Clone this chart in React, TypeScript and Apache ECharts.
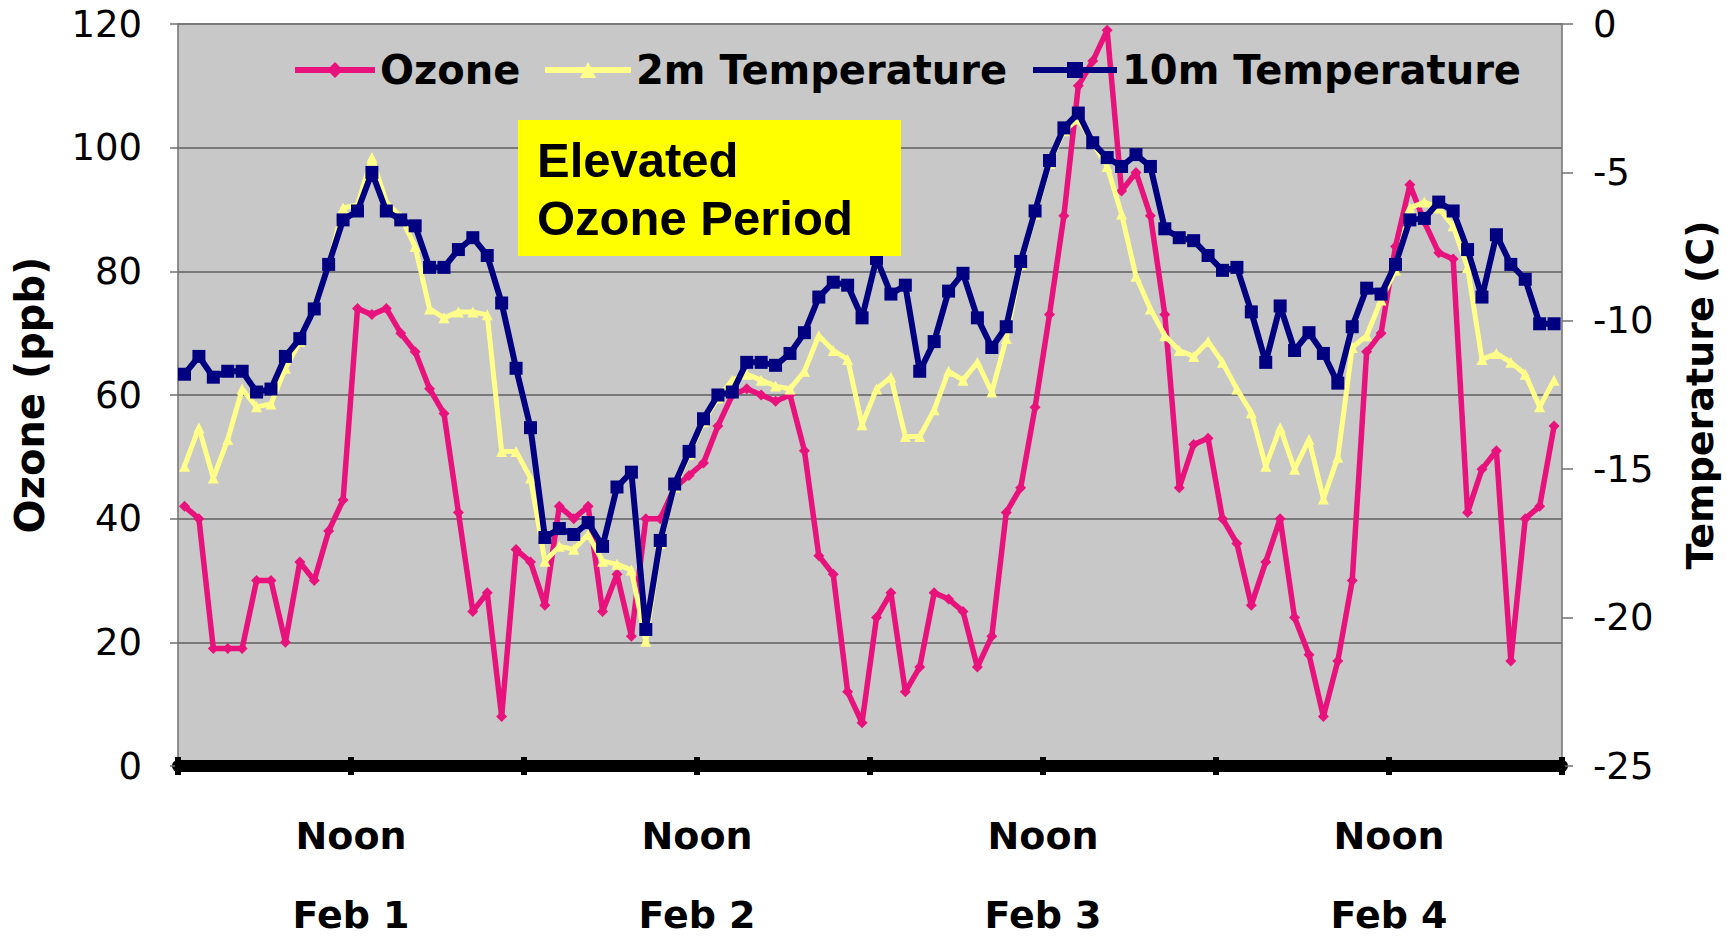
import React, { useEffect, useRef } from "react";
import * as echarts from "echarts";

// Hourly readings, Feb 1 00:00 to Feb 4 24:00 (96 points)
const ozone: number[] = [
  42, 40, 19, 19, 19, 30, 30, 20, 33, 30,
  38, 43, 74, 73, 74, 70, 67, 61, 57, 41,
  25, 28, 8, 35, 33, 26, 42, 40, 42, 25,
  31, 21, 40, 40, 45, 47, 49, 55, 60, 61,
  60, 59, 60, 51, 34, 31, 12, 7, 24, 28,
  12, 16, 28, 27, 25, 16, 21, 41, 45, 58,
  73, 89, 110, 114, 119, 93, 96, 89, 73, 45,
  52, 53, 40, 36, 26, 33, 40, 24, 18, 8,
  17, 30, 67, 70, 84, 94, 88, 83, 82, 41,
  48, 51, 17, 40, 42, 55,
];

const temp2m: number[] = [
  -14.9, -13.6, -15.3, -14.0, -12.3, -12.9, -12.8, -11.6, -10.7, -9.5,
  -8.1, -6.2, -6.1, -4.5, -6.0, -6.5, -7.5, -9.6, -9.9, -9.7,
  -9.7, -9.8, -14.4, -14.4, -15.3, -18.1, -17.6, -17.7, -17.2, -18.1,
  -18.2, -18.4, -20.8, -17.5, -15.6, -14.5, -13.4, -12.6, -12.0, -11.8,
  -12.0, -12.2, -12.3, -11.7, -10.5, -11.0, -11.3, -13.5, -12.3, -11.9,
  -13.9, -13.9, -13.0, -11.7, -12.0, -11.4, -12.4, -10.6, -8.1, -6.4,
  -4.7, -3.6, -3.2, -4.0, -4.8, -6.4, -8.5, -9.6, -10.5, -11.0,
  -11.2, -10.7, -11.4, -12.3, -13.1, -14.9, -13.6, -15.0, -14.0, -16.0,
  -14.6, -10.9, -10.5, -9.3, -8.3, -6.2, -6.0, -6.2, -6.8, -8.2,
  -11.3, -11.1, -11.4, -11.8, -12.9, -12.0,
];

const temp10m: number[] = [
  -11.8, -11.2, -11.9, -11.7, -11.7, -12.4, -12.3, -11.2, -10.6, -9.6,
  -8.1, -6.6, -6.3, -5.0, -6.3, -6.6, -6.8, -8.2, -8.2, -7.6,
  -7.2, -7.8, -9.4, -11.6, -13.6, -17.3, -17.0, -17.2, -16.8, -17.6,
  -15.6, -15.1, -20.4, -17.4, -15.5, -14.4, -13.3, -12.5, -12.4, -11.4,
  -11.4, -11.5, -11.1, -10.4, -9.2, -8.7, -8.8, -9.9, -7.9, -9.1,
  -8.8, -11.7, -10.7, -9.0, -8.4, -9.9, -10.9, -10.2, -8.0, -6.3,
  -4.6, -3.5, -3.0, -4.0, -4.5, -4.8, -4.4, -4.8, -6.9, -7.2,
  -7.3, -7.8, -8.3, -8.2, -9.7, -11.4, -9.5, -11.0, -10.4, -11.1,
  -12.1, -10.2, -8.9, -9.1, -8.1, -6.6, -6.55, -6.0, -6.3, -7.6,
  -9.2, -7.1, -8.1, -8.6, -10.1, -10.1,
];

const dayLabels: string[] = ["Feb 1", "Feb 2", "Feb 3", "Feb 4"];
const noonLabel = "Noon";
const seriesNames: string[] = ["Ozone", "2m Temperature", "10m Temperature"];
const annotation = "Elevated\nOzone Period";

const hourOf = (i: number) => i + 0.45;
const toPoints = (arr: number[]) => arr.map((v, i) => [hourOf(i), v]);

export default function App() {
  const ref = useRef<HTMLDivElement>(null);

  useEffect(() => {
    if (!ref.current) return;
    const chart = echarts.init(ref.current, undefined, { renderer: "svg" });
    const font = "DejaVu Sans";
    const legendText = {
      fontFamily: font,
      fontSize: 40,
      fontWeight: "bold",
      color: "#000",
    };
    const legendBase = {
      top: 50,
      padding: 0,
      itemHeight: 20,
      itemGap: 0,
      textStyle: legendText,
      lineStyle: { width: 6 },
    };
    const option: any = {
      animation: false,
      backgroundColor: "#ffffff",
      grid: {
        left: 178,
        right: 165,
        top: 24,
        bottom: 170,
        show: true,
        backgroundColor: "#c8c8c8",
        borderWidth: 0,
        containLabel: false,
        outerBoundsMode: "none",
      },
      legend: [
        { ...legendBase, data: [seriesNames[0]], left: 292, itemWidth: 80 },
        { ...legendBase, data: [seriesNames[1]], left: 542, itemWidth: 86 },
        { ...legendBase, data: [seriesNames[2]], left: 1030, itemWidth: 84 },
      ],
      xAxis: [
        {
          type: "value",
          min: 0,
          max: 96,
          interval: 12,
          position: "bottom",
          axisLine: { show: true, onZero: false, lineStyle: { color: "#000", width: 12 } },
          axisTick: { show: true, inside: false, length: 9, lineStyle: { color: "#000", width: 6 } },
          splitLine: { show: false },
          axisLabel: {
            show: true,
            margin: 30,
            showMinLabel: true,
            showMaxLabel: true,
            hideOverlap: false,
            fontFamily: font,
            fontSize: 38,
            fontWeight: "bold",
            color: "#000",
            lineHeight: 79,
            formatter: (v: number) => {
              if (v % 24 === 12) {
                const d = dayLabels[(v - 12) / 24];
                return d ? `${noonLabel}\n${d}` : "";
              }
              return "";
            },
          },
        },
        {
          type: "value",
          min: 0,
          max: 96,
          interval: 12,
          position: "top",
          offset: -742,
          axisLine: { show: false, onZero: false },
          axisTick: { show: true, inside: false, length: 9, lineStyle: { color: "#000", width: 6 } },
          splitLine: { show: false },
          axisLabel: { show: false },
        },
      ],
      yAxis: [
        {
          type: "value",
          position: "left",
          min: 0,
          max: 120,
          interval: 20,
          name: "Ozone (ppb)",
          nameLocation: "middle",
          nameRotate: 90,
          nameGap: 128,
          nameTextStyle: { fontFamily: font, fontSize: 40, fontWeight: "bold", color: "#000" },
          axisLine: { show: true, onZero: false, lineStyle: { color: "#707070", width: 1.5 } },
          axisTick: { show: true, length: 8, lineStyle: { color: "#707070", width: 1.5 } },
          splitLine: { show: true, lineStyle: { color: "#7a7a7a", width: 2 } },
          axisLabel: { margin: 36, fontFamily: font, fontSize: 37, color: "#000" },
        },
        {
          type: "value",
          position: "right",
          min: -25,
          max: 0,
          interval: 5,
          name: "Temperature (C)",
          nameLocation: "middle",
          nameRotate: 90,
          nameGap: 119,
          nameTextStyle: { fontFamily: font, fontSize: 38, fontWeight: "bold", color: "#000" },
          axisLine: { show: true, onZero: false, lineStyle: { color: "#707070", width: 1.5 } },
          axisTick: { show: true, length: 11, lineStyle: { color: "#707070", width: 1.5 } },
          splitLine: { show: false },
          axisLabel: { margin: 31, fontFamily: font, fontSize: 37, color: "#000" },
        },
      ],
      series: [
        {
          name: seriesNames[0],
          type: "line",
          xAxisIndex: 0,
          yAxisIndex: 0,
          data: toPoints(ozone),
          symbol: "diamond",
          symbolSize: 11,
          z: 2,
          itemStyle: { color: "#e8127c" },
          lineStyle: { color: "#e8127c", width: 5.5 },
        },
        {
          name: seriesNames[1],
          type: "line",
          xAxisIndex: 0,
          yAxisIndex: 1,
          data: toPoints(temp2m),
          symbol: "triangle",
          symbolSize: 11,
          z: 3,
          itemStyle: { color: "#ffff8a" },
          lineStyle: { color: "#ffff8a", width: 5 },
        },
        {
          name: seriesNames[2],
          type: "line",
          xAxisIndex: 0,
          yAxisIndex: 1,
          data: toPoints(temp10m),
          symbol: "rect",
          symbolSize: 13,
          z: 4,
          itemStyle: { color: "#000080" },
          lineStyle: { color: "#000080", width: 6 },
        },
      ],
      graphic: [
        {
          type: "rect",
          z: 100,
          shape: { x: 518, y: 120, width: 383, height: 136 },
          style: { fill: "#ffff00" },
        },
        {
          type: "text",
          z: 101,
          x: 537,
          y: 131,
          style: {
            text: annotation,
            fontFamily: "Liberation Sans",
            fontSize: 49,
            fontWeight: "bold",
            lineHeight: 58,
            fill: "#000",
            verticalAlign: "top",
          },
        },
      ],
    };
    chart.setOption(option);
    return () => chart.dispose();
  }, []);

  return (
    <div
      ref={ref}
      style={{ position: "fixed", left: 0, top: 0, width: 1727, height: 936 }}
    />
  );
}
